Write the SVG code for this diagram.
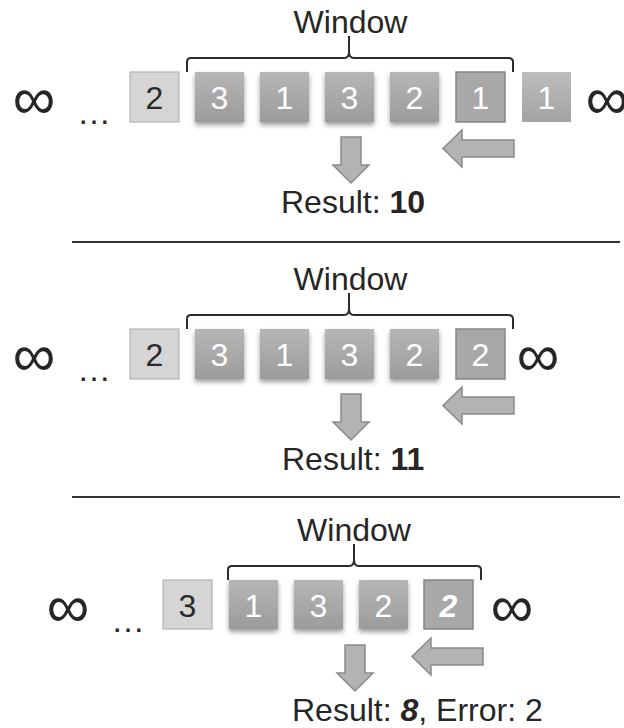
<svg xmlns="http://www.w3.org/2000/svg" width="624" height="728" viewBox="0 0 624 728">
<defs>
<linearGradient id="gWin" x1="0" y1="0" x2="0" y2="1">
<stop offset="0" stop-color="#b6b6b6"/>
<stop offset="1" stop-color="#9b9b9b"/>
</linearGradient>
<linearGradient id="gPlain" x1="0" y1="0" x2="0" y2="1">
<stop offset="0" stop-color="#bdbdbd"/>
<stop offset="1" stop-color="#a3a3a3"/>
</linearGradient>
<filter id="sh" x="-20%" y="-20%" width="140%" height="150%">
<feDropShadow dx="0" dy="3" stdDeviation="2.5" flood-color="#000" flood-opacity="0.4"/>
</filter>
</defs>
<style>
text{font-family:"Liberation Sans",Arial,sans-serif;fill:#262626}
.lbl{font-size:32px}
.inf{font-size:60px;text-anchor:middle}
.dots{font-size:34px}
.dg{font-size:32px;text-anchor:middle;fill:#ffffff}
.dgd{font-size:32px;text-anchor:middle;fill:#2a2a2a}
.light{fill:#d5d5d5;stroke:#b3b3b3;stroke-width:1.2}
.win{fill:url(#gWin);filter:url(#sh)}
.out{fill:#a8a8a8;stroke:#858585;stroke-width:1.5}
.plain{fill:url(#gPlain)}
.brace{fill:none;stroke:#2b2b2b;stroke-width:2}
.arr{fill:#b3b3b3;stroke:#8a8a8a;stroke-width:1.5;stroke-linejoin:miter}
.sep{stroke:#333333;stroke-width:2}
</style>

<!-- Panel 1 -->
<g id="p1-inf-left"><text class="inf" x="34" y="119">∞</text></g>
<g id="p1-dots"><text class="dots" x="77" y="124">…</text></g>
<g id="p1-window"><text class="lbl" x="350.5" y="33" text-anchor="middle">Window</text></g>
<g id="p1-brace"><path class="brace" d="M187,72 V62 Q187,58 191,58 H344 Q349,58 349,52 V36 M349,52 Q349,58 354,58 H508 Q513,58 513,62 V72"/></g>
<g id="p1-b0"><rect class="light" x="130" y="72" width="49" height="50"/><text class="dgd" x="154.5" y="109">2</text></g>
<g id="p1-b1"><rect class="win" x="195" y="72" width="49" height="50"/><text class="dg" x="219.5" y="109">3</text></g>
<g id="p1-b2"><rect class="win" x="260" y="72" width="49" height="50"/><text class="dg" x="284.5" y="109">1</text></g>
<g id="p1-b3"><rect class="win" x="325" y="72" width="49" height="50"/><text class="dg" x="349.5" y="109">3</text></g>
<g id="p1-b4"><rect class="win" x="390" y="72" width="49" height="50"/><text class="dg" x="414.5" y="109">2</text></g>
<g id="p1-b5"><rect class="out" x="456" y="72" width="49" height="50"/><text class="dg" x="480.5" y="109">1</text></g>
<g id="p1-b6"><rect class="plain" x="522" y="72" width="49" height="50"/><text class="dg" x="546.5" y="109">1</text></g>
<g id="p1-inf-right"><text class="inf" x="607" y="119">∞</text></g>
<g id="p1-result"><text class="lbl" x="281" y="213">Result: <tspan font-weight="bold">10</tspan></text></g>

<line class="sep" x1="72" y1="242" x2="620" y2="242"/>

<!-- Panel 2 -->
<g id="p2-inf-left"><text class="inf" x="34" y="376">∞</text></g>
<g id="p2-dots"><text class="dots" x="77" y="381">…</text></g>
<g id="p2-window"><text class="lbl" x="350.5" y="290" text-anchor="middle">Window</text></g>
<g id="p2-brace"><path class="brace" d="M187,329 V319 Q187,315 191,315 H344 Q349,315 349,309 V293 M349,309 Q349,315 354,315 H508 Q513,315 513,319 V329"/></g>
<g id="p2-b0"><rect class="light" x="130" y="329" width="49" height="50"/><text class="dgd" x="154.5" y="366">2</text></g>
<g id="p2-b1"><rect class="win" x="195" y="329" width="49" height="50"/><text class="dg" x="219.5" y="366">3</text></g>
<g id="p2-b2"><rect class="win" x="260" y="329" width="49" height="50"/><text class="dg" x="284.5" y="366">1</text></g>
<g id="p2-b3"><rect class="win" x="325" y="329" width="49" height="50"/><text class="dg" x="349.5" y="366">3</text></g>
<g id="p2-b4"><rect class="win" x="390" y="329" width="49" height="50"/><text class="dg" x="414.5" y="366">2</text></g>
<g id="p2-b5"><rect class="out" x="456" y="329" width="49" height="50"/><text class="dg" x="480.5" y="366">2</text></g>
<g id="p2-inf-right"><text class="inf" x="538" y="376">∞</text></g>
<g id="p2-result"><text class="lbl" x="282" y="470">Result: <tspan font-weight="bold">11</tspan></text></g>

<line class="sep" x1="72" y1="497" x2="620" y2="497"/>

<!-- Panel 3 -->
<g id="p3-inf-left"><text class="inf" x="68" y="627">∞</text></g>
<g id="p3-dots"><text class="dots" x="111" y="632">…</text></g>
<g id="p3-window"><text class="lbl" x="354" y="541" text-anchor="middle">Window</text></g>
<g id="p3-brace"><path class="brace" d="M228,580 V570 Q228,566 232,566 H349 Q354,566 354,560 V544 M354,560 Q354,566 359,566 H477 Q481,566 481,570 V580"/></g>
<g id="p3-b0"><rect class="light" x="163" y="580" width="49" height="49"/><text class="dgd" x="187.5" y="617">3</text></g>
<g id="p3-b1"><rect class="win" x="229" y="580" width="49" height="49"/><text class="dg" x="253.5" y="617">1</text></g>
<g id="p3-b2"><rect class="win" x="294" y="580" width="49" height="49"/><text class="dg" x="318.5" y="617">3</text></g>
<g id="p3-b3"><rect class="win" x="359" y="580" width="49" height="49"/><text class="dg" x="383.5" y="617">2</text></g>
<g id="p3-b4"><rect class="out" x="424" y="580" width="49" height="49"/><text class="dg" x="448.5" y="617" font-weight="bold" font-style="italic">2</text></g>
<g id="p3-inf-right"><text class="inf" x="512" y="627">∞</text></g>
<g id="p3-result"><text class="lbl" x="292" y="721">Result: <tspan font-weight="bold" font-style="italic">8</tspan>, Error: 2</text></g>

<!-- Arrows -->
<g id="connectors">
<polygon class="arr" points="341,137 361,137 361,165 369,165 351,183 333,165 341,165"/>
<polygon class="arr" points="514,140 514,157 462,157 462,167 443,148.5 462,130 462,140"/>
<polygon class="arr" points="341,394 361,394 361,422 369,422 351,440 333,422 341,422"/>
<polygon class="arr" points="514,397 514,414 462,414 462,424 443,405.5 462,387 462,397"/>
<polygon class="arr" points="345,645 365,645 365,673 373,673 355,691 337,673 345,673"/>
<polygon class="arr" points="483,648 483,665 431,665 431,675 412,656.5 431,638 431,648"/>
</g>
</svg>
